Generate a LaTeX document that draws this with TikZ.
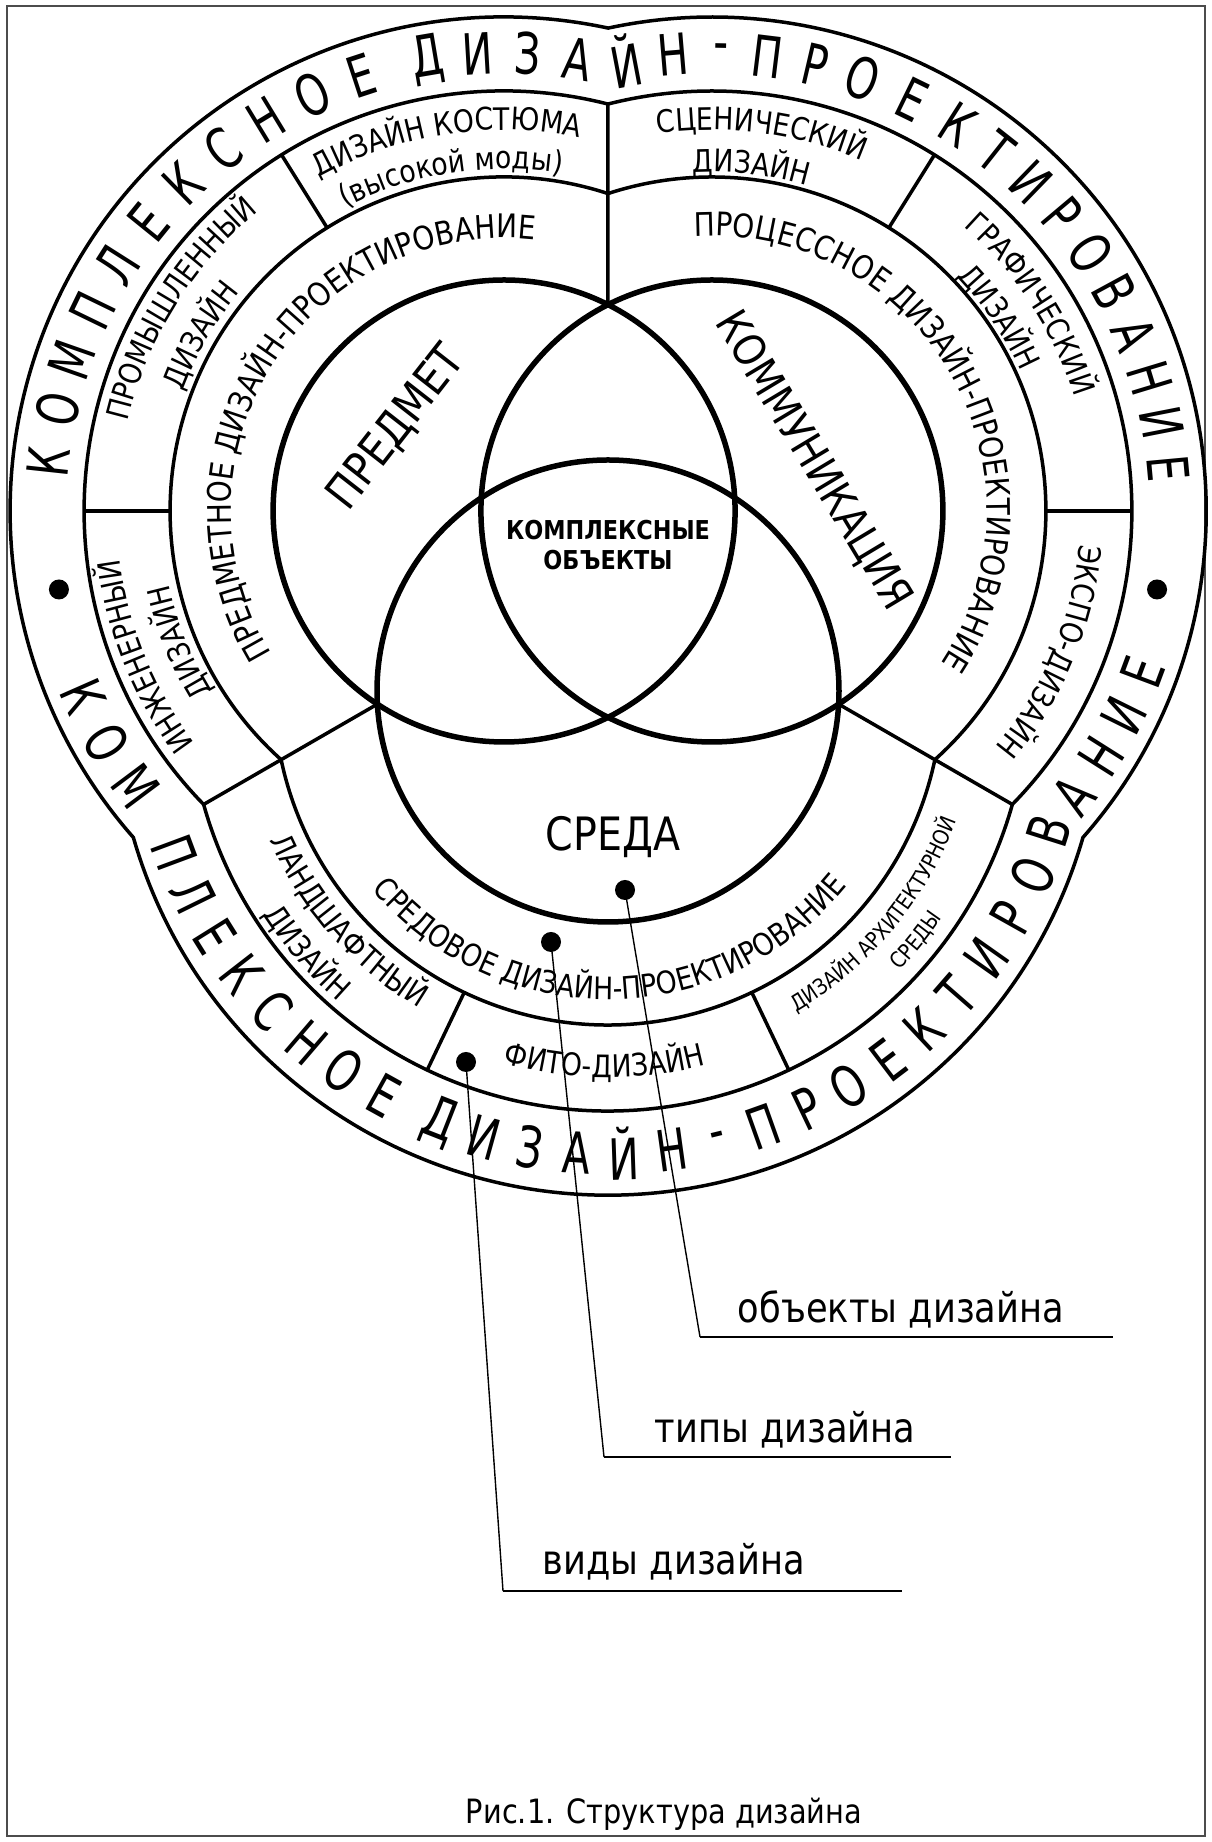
\documentclass[tikz,border=0pt]{standalone}
\usepackage{fontspec}
\setmainfont{DejaVu Sans}[FakeStretch=0.86]
\newfontfamily\ringfont{DejaVu Sans}[FakeStretch=0.72]
\usetikzlibrary{calc,decorations.text}

\newcommand\fsz[1]{\fontsize{#1}{#1}\selectfont}
% text on an arc: centre, baseline radius, middle angle, size, text
\newcommand\cwtext[5]{%
  \path[decorate,decoration={text along path,text align=center,text={|\fsz{#4}|#5}}]
    ([shift={({#3+85}:#2)}]#1) arc[start angle={#3+85},end angle={#3-85},radius=#2];}
\newcommand\ccwtext[5]{%
  \path[decorate,decoration={text along path,text align=center,text={|\fsz{#4}|#5}}]
    ([shift={({#3-85}:#2)}]#1) arc[start angle={#3-85},end angle={#3+85},radius=#2];}

\begin{document}
\begin{tikzpicture}[x=1pt,y=1pt,
    venn/.style={line width=5.5},
    ring/.style={line width=3.5},
    lead/.style={line width=1.4},
    shelf/.style={line width=2.6},
    dot/.style={circle,fill,inner sep=0pt,minimum size=20},
    glyph/.style={font=\ringfont\fsz{57},inner sep=0pt}]
  \fill[white] (0,0) rectangle (1211,1842);
  \useasboundingbox (0,0) rectangle (1211,1842);
  \draw[black!70,line width=1.5] (7,6) rectangle (1205,1836);

  \coordinate (O) at (608,1271);
  \coordinate (C1) at ($(O)+(150:120)$);
  \coordinate (C2) at ($(O)+(30:120)$);
  \coordinate (C3) at ($(O)+(270:120)$);
  \coordinate (C3o) at ($(C3)+(0,-10)$);

  % rings: three lobes each
  \foreach \R in {334,420}{
    \pgfmathsetmacro\ps{acos(103.92/\R)}
    \draw[ring] ([shift={(\ps:\R)}]C1) arc[start angle=\ps,end angle=300-\ps,radius=\R]
      arc[start angle=120+\ps,end angle=420-\ps,radius=\R]
      arc[start angle=\ps-120,end angle=180-\ps,radius=\R] -- cycle;
  }
  % outer edge, lower lobe set a little lower
  \draw[ring] ([shift={(77.86:494)}]C1) arc[start angle=77.86,end angle=221.37,radius=494]
    arc[start angle=196.03,end angle=343.97,radius=494]
    arc[start angle=-41.37,end angle=102.14,radius=494] -- cycle;
  \foreach \c in {C1,C2,C3}
    \draw[venn] (\c) circle[radius=231];

  % dividers
  \pgfmathsetmacro\pv{acos(103.92/231)}
  \pgfmathsetmacro\pk{acos(103.92/420)}
  \draw[ring] ([shift={(\pv:231)}]C1) -- ([shift={(\pk:420)}]C1);
  \draw[ring] ([shift={({300-\pv}:231)}]C1) -- ([shift={({300-\pk}:420)}]C1);
  \draw[ring] ([shift={({\pv-120}:231)}]C2) -- ([shift={({\pk-120}:420)}]C2);
  \foreach \c/\a in {C1/122,C1/180,C2/58,C2/0,C3/244.5,C3/295.5}
    \draw[ring] ([shift={(\a:334)}]\c) -- ([shift={(\a:420)}]\c);

  % objects
  \node[rotate=52,font=\fsz{46}] (pred) at (397,1414) {ПРЕДМЕТ};
  \node[rotate=-59,font=\fsz{44}] (komm) at (813,1381) {КОММУНИКАЦИЯ};
  \node[font=\fsz{46}] (sreda) at (613,1005) {СРЕДА};
  \node[align=center,font=\bfseries\fontsize{26}{30}\selectfont] (kompl) at (608,1297) {КОМПЛЕКСНЫЕ\\ОБЪЕКТЫ};

  % types
  \cwtext{C1}{273}{147.5}{32.5}{ПРЕДМЕТНОЕ ДИЗАЙН-ПРОЕКТИРОВАНИЕ}
  \cwtext{C2}{275}{30}{32.5}{ПРОЦЕССНОЕ ДИЗАЙН-ПРОЕКТИРОВАНИЕ}
  \ccwtext{C3}{308.5}{270.5}{31}{СРЕДОВОЕ ДИЗАЙН-ПРОЕКТИРОВАНИЕ}

  % kinds
  \cwtext{C1}{381}{98.8}{31}{ДИЗАЙН КОСТЮМА}
  \cwtext{C1}{342}{99}{31}{(высокой моды)}
  \cwtext{C1}{387}{148}{31}{ПРОМЫШЛЕННЫЙ}
  \cwtext{C1}{343}{150}{31}{ДИЗАЙН}
  \cwtext{C1}{387}{202}{31}{ИНЖЕНЕРНЫЙ}
  \cwtext{C1}{343}{202}{31}{ДИЗАЙН}
  \cwtext{C2}{381}{82.5}{31}{СЦЕНИЧЕСКИЙ}
  \cwtext{C2}{339}{83.5}{31}{ДИЗАЙН}
  \cwtext{C2}{380}{33}{31}{ГРАФИЧЕСКИЙ}
  \cwtext{C2}{339}{34}{31}{ДИЗАЙН}
  \cwtext{C2}{369}{-22.5}{31}{ЭКСПО-ДИЗАЙН}
  \ccwtext{C3}{369.5}{221.5}{31}{ЛАНДШАФТНЫЙ}
  \ccwtext{C3}{411.5}{221}{31}{ДИЗАЙН}
  \ccwtext{C3}{386.5}{269.5}{31}{ФИТО-ДИЗАЙН}
  \ccwtext{C3}{372}{320}{22}{ДИЗАЙН АРХИТЕКТУРНОЙ}
  \ccwtext{C3}{404}{321}{22}{СРЕДЫ}

  % outer ring lettering
  \foreach \ch/\a [count=\i] in {К/173.8,О/167.2,М/160.7,П/154.1,Л/147.6,Е/141.0,К/134.4,С/127.9,Н/121.3,О/114.8,Е/108.2,Д/99.6,И/93.3,З/87.0,А/80.8}
    \node[glyph,rotate=\a-90] (ta\i) at ([shift={(\a:458)}]C1) {\ch};
  \foreach \ch/\a [count=\i] in {Й/100.8,Н/94.8,-/88.9,П/83.0,Р/76.9,О/70.8,Е/64.0,К/57.5,Т/51.7,И/45.9,Р/40.1,О/34.3,В/28.5,А/22.7,Н/16.9,И/11.1,Е/5.3}
    \node[glyph,rotate=\a-90] (tb\i) at ([shift={(\a:458)}]C2) {\ch};
  \foreach \ch/\a [count=\i] in {К/203.8,О/210.3,М/216.8}
    \node[glyph,rotate=\a+90] (ba\i) at ([shift={(\a:460)}]C1) {\ch};
  \foreach \ch/\a [count=\i] in {П/200.4,Л/206.2,Е/212.0,К/217.8,С/223.6,Н/229.4,О/235.2,Е/241.0,Д/248.6,И/254.5,З/260.3,А/266.2,Й/272.0,Н/277.9,-/283.8,П/289.6,Р/295.5,О/301.3,Е/307.2,К/313.1,Т/318.9,И/324.8,Р/330.7,О/336.5,В/342.4}
    \node[glyph,rotate=\a+90] (bb\i) at ([shift={(\a:463)}]C3) {\ch};
  \foreach \ch/\a [count=\i] in {А/-38.2,Н/-32.3,И/-26.4,Е/-20.5}
    \node[glyph,rotate=\a+90] (bc\i) at ([shift={(\a:460)}]C2) {\ch};
  \node[dot] (bl) at ([shift={(190:452)}]C1) {};
  \node[dot] (br) at ([shift={(-10:452)}]C2) {};

  % leaders
  \node[dot] (dobj) at (625,952) {};
  \node[dot] (dtyp) at (551,900) {};
  \node[dot] (dvid) at (466,780) {};
  \node[anchor=base,font=\fsz{41}] (tobj) at (901,519) {объекты дизайна};
  \node[anchor=base,font=\fsz{41}] (ttyp) at (785,399) {типы дизайна};
  \node[anchor=base,font=\fsz{41}] (tvid) at (674,267) {виды дизайна};
  \coordinate (kobj) at (700,505);  \coordinate (eobj) at (1113,505);
  \coordinate (ktyp) at (604,385);  \coordinate (etyp) at (951,385);
  \coordinate (kvid) at (503,251);  \coordinate (evid) at (902,251);
  \draw[lead] (dobj.center) -- (kobj);
  \draw[lead] (dtyp.center) -- (ktyp);
  \draw[lead] (dvid.center) -- (kvid);
  \draw[shelf] (kobj) -- (eobj);
  \draw[shelf] (ktyp) -- (etyp);
  \draw[shelf] (kvid) -- (evid);

  \node[anchor=base,font=\fsz{33.5}] (cap) at (664,19) {Рис.1. Структура дизайна};
\end{tikzpicture}
\end{document}
